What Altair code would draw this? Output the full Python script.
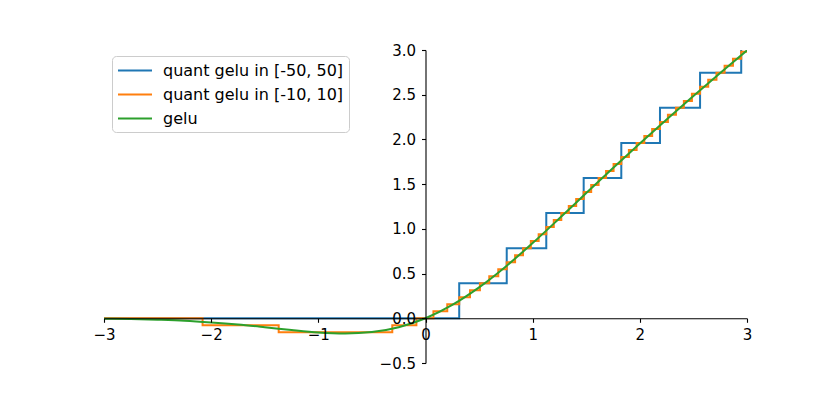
import altair as alt
import pandas as pd

# ---- data ----
series_names = ["quant gelu in [-50, 50]", "quant gelu in [-10, 10]", "gelu"]
colors = ["#1f77b4", "#ff7f0e", "#2ca02c"]

# blue: quantized gelu, range [-50, 50] (step-after breakpoints)
blue_x = [-3.0, 0.3145, 0.758, 1.127, 1.476, 1.827, 2.188, 2.562, 2.946, 3.0]
blue_y = [0.0, 0.392, 0.784, 1.176, 1.569, 1.961, 2.353, 2.745, 3.137, 3.137]

# orange: quantized gelu, range [-10, 10] (step-after breakpoints)
orange_x = [-3.0, -2.08, -1.37, -0.31, -0.085,
            0.074, 0.203, 0.3145, 0.415, 0.508, 0.595, 0.679, 0.758, 0.836, 0.91,
            0.983, 1.056, 1.127, 1.197, 1.267, 1.337, 1.406, 1.476, 1.546, 1.615,
            1.685, 1.755, 1.827, 1.898, 1.97, 2.042, 2.115, 2.188, 2.262, 2.337,
            2.411, 2.486, 2.562, 2.638, 2.715, 2.791, 2.869, 2.946, 3.0]
orange_y = [0.0, -0.078, -0.157, -0.078, 0.0,
            0.078, 0.157, 0.235, 0.314, 0.392, 0.471, 0.549, 0.627, 0.706, 0.784,
            0.863, 0.941, 1.020, 1.098, 1.176, 1.255, 1.333, 1.412, 1.490, 1.569,
            1.647, 1.725, 1.804, 1.882, 1.961, 2.039, 2.118, 2.196, 2.275, 2.353,
            2.431, 2.510, 2.588, 2.667, 2.745, 2.824, 2.902, 2.980, 2.980]

# green: gelu curve samples
green_x = [-3.0, -2.75, -2.5, -2.25, -2.0, -1.75, -1.5, -1.25, -1.0, -0.75, -0.5, -0.25,
           0.0, 0.25, 0.5, 0.75, 1.0, 1.25, 1.5, 1.75, 2.0, 2.25, 2.5, 2.75, 3.0]
green_y = [-0.004, -0.008, -0.016, -0.027, -0.046, -0.070, -0.100, -0.132, -0.159, -0.170,
           -0.154, -0.100, 0.0, 0.150, 0.346, 0.580, 0.841, 1.118, 1.400, 1.680, 1.955,
           2.223, 2.485, 2.742, 2.996]

x_ticks = [-3, -2, -1, 0, 1, 2, 3]
y_ticks = [-0.5, 0.0, 0.5, 1.0, 1.5, 2.0, 2.5, 3.0]

# ---- layout (pixels) ----
W, H = 643, 313
x0_off = -W / 2            # y axis at x = 0
y0_off = -H * 0.5 / 3.5    # x axis at y = 0

def frame(xs, ys, name):
    return pd.DataFrame({"x": xs, "y": ys, "series": name})

df_b = frame(blue_x, blue_y, series_names[0])
df_o = frame(orange_x, orange_y, series_names[1])
df_g = frame(green_x, green_y, series_names[2])

xscale = alt.Scale(domain=[-3, 3], nice=False, zero=False)
yscale = alt.Scale(domain=[-0.5, 3.0], nice=False, zero=False)
cscale = alt.Scale(domain=series_names, range=colors)

xaxis = alt.Axis(values=x_ticks, format="d", title=None, grid=False, offset=y0_off,
                 zindex=1, labelFlush=False, labelOverlap=False, labelPadding=5)
yaxis = alt.Axis(values=y_ticks, format=".1f", title=None, grid=False, offset=x0_off,
                 zindex=1, labelFlush=False, labelOverlap=False, labelPadding=6)

def enc(ch):
    return ch.encode(
        x=alt.X("x:Q", scale=xscale, axis=xaxis),
        y=alt.Y("y:Q", scale=yscale, axis=yaxis),
        color=alt.Color("series:N", scale=cscale, sort=series_names,
                        legend=alt.Legend(title=None)),
    )

blue = enc(alt.Chart(df_b).mark_line(interpolate="step-after", strokeWidth=2, clip=True))
orange = enc(alt.Chart(df_o).mark_line(interpolate="step-after", strokeWidth=2, clip=True))
green = enc(alt.Chart(df_g).mark_line(interpolate="monotone", strokeWidth=2, clip=True))

chart = (
    alt.layer(blue, orange, green)
    .properties(width=W, height=H,
                autosize=alt.AutoSizeParams(type="none"),
                padding={"left": 96, "top": 42, "right": 40, "bottom": 40})
    .configure_view(stroke=None)
    .configure_axis(
        labelFont="DejaVu Sans", labelFontSize=15, labelColor="black",
        domainColor="black", domainWidth=1.1, tickColor="black", tickWidth=1.1,
        tickSize=4,
    )
    .configure_legend(
        orient="none", legendX=8, legendY=6,
        fillColor="rgba(255,255,255,0.8)", strokeColor="#cccccc", cornerRadius=4,
        padding=5, symbolType="M-1,0H3", symbolSize=289, symbolStrokeWidth=2,
        labelFont="DejaVu Sans", labelFontSize=16, labelColor="black", labelLimit=400,
        rowPadding=6, labelOffset=27,
    )
)

chart.save("out.html", embed_options={"renderer": "svg", "actions": False})
